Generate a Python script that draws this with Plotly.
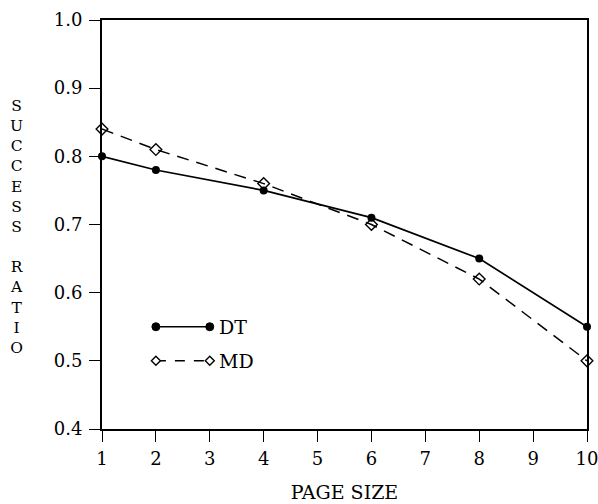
import plotly.graph_objects as go

page_size = [1, 2, 4, 6, 8, 10]
dt_ratio = [0.80, 0.78, 0.75, 0.71, 0.65, 0.55]
md_ratio = [0.84, 0.81, 0.76, 0.70, 0.62, 0.50]
x_ticks = [1, 2, 3, 4, 5, 6, 7, 8, 9, 10]
y_ticks = [0.4, 0.5, 0.6, 0.7, 0.8, 0.9, 1.0]
y_title = "SUCCESS RATIO"

FONT = "DejaVu Serif"

W, H = 598, 504
l, t, r, b = 102, 20, 11, 75
pw, ph = W - l - r, H - t - b

fig = go.Figure()
fig.add_trace(go.Scatter(
    x=page_size, y=dt_ratio, mode="lines+markers", name="DT",
    line=dict(color="black", width=1.7),
    marker=dict(symbol="circle", size=8, color="black"),
    cliponaxis=False, showlegend=False))
fig.add_trace(go.Scatter(
    x=page_size, y=md_ratio, mode="lines+markers", name="MD",
    line=dict(color="black", width=1.5, dash="12px,8px"),
    marker=dict(symbol="diamond-open", size=9, color="black", line=dict(width=1.4)),
    cliponaxis=False, showlegend=False))

# custom legend key (positioned in data space, like the original)
legend_pos = {"DT": (2, 3, 0.55), "MD": (2, 3, 0.50)}
shapes = []
anns = []
for name, (xa, xb, yy) in legend_pos.items():
    solid = name == "DT"
    shapes.append(dict(type="line", xref="x", yref="y", x0=xa, x1=xb, y0=yy, y1=yy,
                       line=dict(color="black", width=1.7 if solid else 1.5,
                                 dash="solid" if solid else "10px,9px")))
    for xv in (xa, xb):
        if solid:
            shapes.append(dict(type="circle", xref="x", yref="y", xsizemode="pixel",
                               ysizemode="pixel", xanchor=xv, yanchor=yy,
                               x0=-4, x1=4, y0=-4, y1=4,
                               fillcolor="black", line=dict(color="black", width=1)))
        else:
            shapes.append(dict(type="path", xref="x", yref="y", xsizemode="pixel",
                               ysizemode="pixel", xanchor=xv, yanchor=yy,
                               path="M -4.5 0 L 0 4.5 L 4.5 0 L 0 -4.5 Z",
                               fillcolor="white", line=dict(color="black", width=1.4)))
    anns.append(dict(x=xb, y=yy, xref="x", yref="y", text=name, showarrow=False,
                     xanchor="left", yanchor="middle", xshift=7,
                     font=dict(family=FONT, size=19, color="black")))

# vertical stacked y-axis title
stacked = "<br>".join(ch if ch != " " else "" for ch in y_title)
anns.append(dict(x=(17 - l) / pw, y=1 - (227 - t) / ph, xref="paper", yref="paper",
                 text=stacked, showarrow=False, xanchor="center", yanchor="middle",
                 font=dict(family=FONT, size=15.5, color="black"), align="center"))

fig.update_layout(
    width=W, height=H,
    margin=dict(l=l, r=r, t=t, b=b, autoexpand=False),
    plot_bgcolor="white", paper_bgcolor="white",
    shapes=shapes, annotations=anns,
    font=dict(family=FONT, size=18, color="black"),
    xaxis=dict(range=[1, 10], tickvals=x_ticks, ticks="outside", ticklen=11,
               tickwidth=1.3, tickcolor="black", showgrid=False, zeroline=False,
               showline=True, linecolor="black", linewidth=2, mirror=True,
               automargin=False, ticklabelstandoff=1, ticklabeloverflow="allow",
               title=dict(text="PAGE SIZE", font=dict(family=FONT, size=19), standoff=18)),
    yaxis=dict(range=[0.4, 1.0], tickvals=y_ticks, tickformat=".1f", ticks="outside",
               ticklen=11, tickwidth=1.3, tickcolor="black", showgrid=False,
               zeroline=False, showline=True, linecolor="black", linewidth=2, mirror=True,
               automargin=False, ticklabelstandoff=3, ticklabeloverflow="allow"),
)

fig.write_html("out.html",
               config={"displayModeBar": False},
               post_script="document.body.style.margin='0';document.body.style.overflow='hidden';")
